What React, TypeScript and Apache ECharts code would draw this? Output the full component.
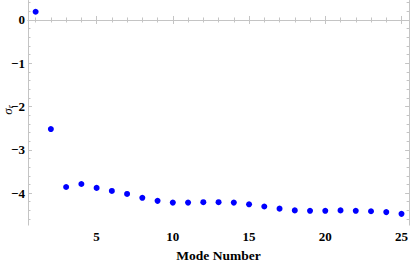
import React, { useEffect, useRef } from "react";
import * as echarts from "echarts";

const modeNumbers = [1, 2, 3, 4, 5, 6, 7, 8, 9, 10, 11, 12, 13, 14, 15, 16, 17, 18, 19, 20, 21, 22, 23, 24, 25];
const sigmaR = [0.19, -2.52, -3.86, -3.79, -3.88, -3.95, -4.02, -4.11, -4.18, -4.22, -4.22, -4.21, -4.21, -4.22, -4.26, -4.31, -4.36, -4.40, -4.41, -4.41, -4.40, -4.41, -4.42, -4.44, -4.48];
const xMajorTicks = [5, 10, 15, 20, 25];
const xMinorTicks = [1, 2, 3, 4, 6, 7, 8, 9, 11, 12, 13, 14, 16, 17, 18, 19, 21, 22, 23, 24];
const yMajorTicks = [-4, -3, -2, -1, 0];
const yMinorTicks = [-4.6, -4.4, -4.2, -3.8, -3.6, -3.4, -3.2, -2.8, -2.6, -2.4, -2.2, -1.8, -1.6, -1.4, -1.2, -0.8, -0.6, -0.4, -0.2, 0.2, 0.4];

const X_MIN = 0.5;
const X_MAX = 25.5;
const Y_MIN = -4.74;
const Y_MAX = 0.45;

const FRAME = "#c4c4c4";
const FONT = "Liberation Serif";

export default function App() {
  const ref = useRef<HTMLDivElement>(null);
  useEffect(() => {
    if (!ref.current) return;
    const chart = echarts.init(ref.current, null, { renderer: "svg" });
    const fmt = (v: number) => String(v).replace("-", "\u2212");
    const labelStyle = { color: "#000", fontFamily: FONT, fontWeight: "bold" as const, fontSize: 13 };

    const xAx = (pos: "bottom" | "top", ticks: number[], len: number, main: boolean) => ({
      type: "value" as const,
      position: pos,
      min: X_MIN,
      max: X_MAX,
      axisLine: { show: main, lineStyle: { color: FRAME, width: 1 } },
      axisTick: { show: true, inside: true, length: len, customValues: ticks, lineStyle: { color: FRAME } },
      axisLabel: main && pos === "bottom"
        ? { show: true, customValues: xMajorTicks, margin: 5, formatter: fmt, ...labelStyle }
        : { show: false },
      splitLine: { show: false },
      name: main && pos === "bottom" ? "Mode Number" : "",
      nameLocation: "middle" as const,
      nameGap: 20,
      nameTextStyle: { color: "#000", fontFamily: FONT, fontWeight: "bold" as const, fontSize: 13.5 },
    });
    const yAx = (pos: "left" | "right", ticks: number[], len: number, main: boolean) => ({
      type: "value" as const,
      position: pos,
      min: Y_MIN,
      max: Y_MAX,
      axisLine: { show: main, lineStyle: { color: FRAME, width: 1 } },
      axisTick: { show: true, inside: true, length: len, customValues: ticks, lineStyle: { color: FRAME } },
      axisLabel: main && pos === "left"
        ? { show: true, customValues: yMajorTicks, margin: 3, formatter: fmt, ...labelStyle }
        : { show: false },
      splitLine: { show: false },
    });

    chart.setOption({
      animation: false,
      grid: { left: 28, right: 1, top: 0.5, bottom: 31, containLabel: false },
      xAxis: [
        xAx("bottom", xMajorTicks, 4, true),
        xAx("bottom", xMinorTicks, 2.5, false),
        xAx("top", xMajorTicks, 4, true),
        xAx("top", xMinorTicks, 2.5, false),
      ],
      yAxis: [
        yAx("left", yMajorTicks, 4, true),
        yAx("left", yMinorTicks, 2.5, false),
        yAx("right", yMajorTicks, 4, true),
        yAx("right", yMinorTicks, 2.5, false),
      ],
      graphic: [
        {
          type: "text",
          x: 7,
          y: 110,
          rotation: Math.PI / 2,
          style: {
            text: "{s|\u03c3}{r|r}",
            align: "center",
            verticalAlign: "middle",
            rich: {
              s: { fontFamily: FONT, fontStyle: "italic", fontSize: 13, fill: "#000" },
              r: { fontFamily: FONT, fontStyle: "italic", fontSize: 8, fill: "#000", padding: [6, 0, 0, 0] },
            },
          },
        },
      ],
      series: [
        {
          type: "scatter",
          xAxisIndex: 0,
          yAxisIndex: 0,
          symbol: "circle",
          symbolSize: 6,
          itemStyle: { color: "#0000ff", opacity: 1 },
          data: modeNumbers.map((m, i) => [m, sigmaR[i]]),
        },
      ],
    });
    return () => chart.dispose();
  }, []);
  return <div ref={ref} style={{ position: "absolute", left: 0, top: 0, width: 411, height: 267 }} />;
}
